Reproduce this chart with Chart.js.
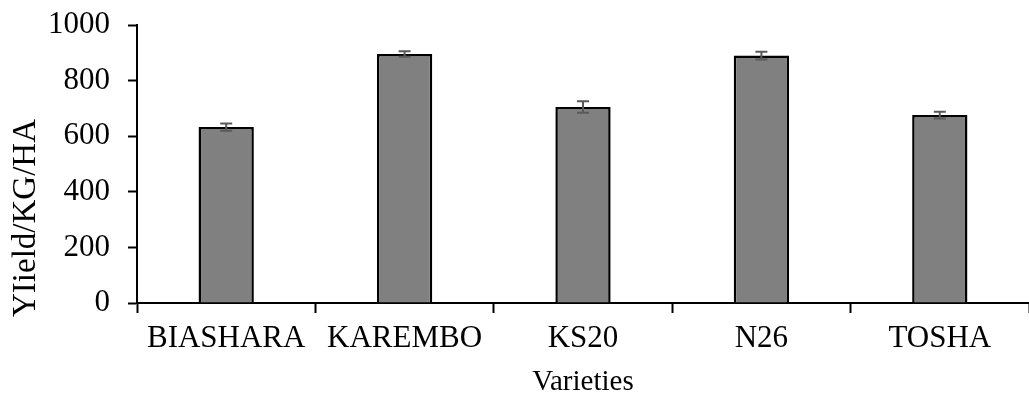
<!DOCTYPE html>
<html>
<head>
<meta charset="utf-8">
<script src="https://cdn.jsdelivr.net/npm/chart.js@4.4.1/dist/chart.umd.min.js"></script>
<style>
html,body{margin:0;padding:0;background:#fff;}
#wrap{width:1029px;height:397px;position:relative;}
</style>
</head>
<body>
<div id="wrap"><canvas id="c" width="1029" height="397"></canvas></div>
<script>
const categories = ["BIASHARA", "KAREMBO", "KS20", "N26", "TOSHA"];
const yieldValues = [633, 896, 705, 890, 676];
const yieldErrors = [13, 10, 21, 14, 12];
const yTickValues = [0, 200, 400, 600, 800, 1000];
const xTitle = "Varieties";
const yTitle = "YIield/KG/HA";

const FONT = "'Liberation Serif', 'Times New Roman', serif";

const errorBarPlugin = {
  id: 'errorBars',
  afterDatasetsDraw(chart) {
    const ctx = chart.ctx;
    const meta = chart.getDatasetMeta(0);
    const yScale = chart.scales.y;
    ctx.save();
    ctx.strokeStyle = '#595959';
    ctx.lineWidth = 2;
    meta.data.forEach((bar, i) => {
      const v = yieldValues[i], e = yieldErrors[i];
      const x = bar.x;
      const yTop = yScale.getPixelForValue(v + e);
      const yBot = yScale.getPixelForValue(v - e);
      ctx.beginPath();
      ctx.moveTo(x, yTop); ctx.lineTo(x, yBot);
      ctx.moveTo(x - 6, yTop); ctx.lineTo(x + 6, yTop);
      ctx.moveTo(x - 6, yBot); ctx.lineTo(x + 6, yBot);
      ctx.stroke();
    });
    ctx.restore();
  }
};

const yTitlePlugin = {
  id: 'yTitle',
  afterDraw(chart) {
    const ctx = chart.ctx;
    ctx.save();
    ctx.fillStyle = '#000';
    ctx.font = "33px " + FONT;
    ctx.textAlign = 'center';
    ctx.textBaseline = 'middle';
    ctx.translate(26, 218);
    ctx.rotate(-Math.PI / 2);
    ctx.fillText(yTitle, 0, 0);
    ctx.restore();
  }
};

new Chart(document.getElementById('c'), {
  type: 'bar',
  data: {
    labels: categories,
    datasets: [{
      data: yieldValues,
      backgroundColor: '#808080',
      borderColor: '#000000',
      borderWidth: 2.5,
      barPercentage: 0.31,
      categoryPercentage: 1.0
    }]
  },
  options: {
    responsive: false,
    animation: false,
    devicePixelRatio: 1,
    layout: { padding: { top: 25, right: 0, left: 0, bottom: 0 } },
    plugins: { legend: { display: false }, tooltip: { enabled: false } },
    scales: {
      x: {
        offset: true,
        grid: { offset: true, drawOnChartArea: false, tickLength: 10, tickColor: '#000', tickWidth: 2 },
        border: { color: '#000', width: 2 },
        ticks: { color: '#000', font: { family: FONT, size: 31 }, padding: 7, maxRotation: 0, autoSkip: false },
        title: { display: true, text: xTitle, color: '#000', font: { family: FONT, size: 29, lineHeight: 1.0 }, padding: { top: 0, bottom: 0 } },
        afterFit(s) { s.height = 94; }
      },
      y: {
        min: 0, max: 1000,
        afterBuildTicks(s) { s.ticks = yTickValues.map(v => ({ value: v })); },
        grid: { drawOnChartArea: false, tickLength: 9, tickColor: '#000', tickWidth: 2 },
        border: { color: '#000', width: 2 },
        ticks: { color: '#000', font: { family: FONT, size: 31, lineHeight: 0.4 }, padding: 18, callback: v => String(v) },
        title: { display: false },
        afterFit(s) { s.width = 137; }
      }
    }
  },
  plugins: [errorBarPlugin, yTitlePlugin]
});
</script>
</body>
</html>
